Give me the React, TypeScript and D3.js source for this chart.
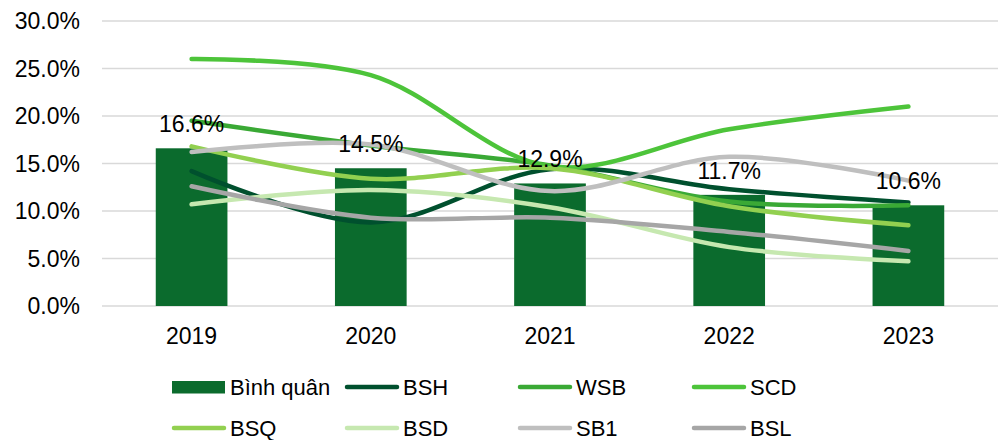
import * as d3 from 'd3';
import React from 'react';

const years = ['2019', '2020', '2021', '2022', '2023'];
const avg = [16.6, 14.5, 12.9, 11.7, 10.6];

const seriesNames = ['BSH', 'WSB', 'SCD', 'BSQ', 'BSD', 'SB1', 'BSL'];
const bsh = [14.2, 8.8, 14.4, 12.3, 10.9];
const wsb = [19.5, 16.9, 14.8, 11.0, 10.6];
const scd = [26.0, 24.3, 14.7, 18.6, 21.0];
const bsq = [16.8, 13.4, 14.5, 10.5, 8.5];
const bsd = [10.7, 12.2, 10.4, 6.2, 4.7];
const sb1 = [16.2, 17.0, 12.1, 15.7, 13.2];
const bsl = [12.6, 9.3, 9.3, 7.8, 5.8];
const yTicks = [0, 5, 10, 15, 20, 25, 30];

const seriesValues = [bsh, wsb, scd, bsq, bsd, sb1, bsl];
const colors = ['#00502E', '#3AA935', '#4DC43A', '#92D050', '#C6E8B0', '#BFBFBF', '#A6A6A6'];
const barColor = '#0B6B2D';
const font = '"Liberation Sans", Arial, sans-serif';

export default function App() {
  const width = 1004;
  const height = 440;
  const margin = { top: 21, right: 6, bottom: 134, left: 102 };

  const x = d3
    .scaleBand()
    .domain(years)
    .range([margin.left, width - margin.right])
    .paddingInner(0.6)
    .paddingOuter(0.3);
  const xc = (d: string) => (x(d) as number) + x.bandwidth() / 2;

  const y = d3
    .scaleLinear()
    .domain([0, 30])
    .range([height - margin.bottom, margin.top]);

  const line = d3
    .line<number>()
    .x((_, i) => xc(years[i]))
    .y((d) => y(d))
    .curve(d3.curveCatmullRom.alpha(0.5));

  // legend: 4 columns x 2 rows
  const legendItems = [{ name: 'Bình quân', color: barColor, bar: true }].concat(
    seriesNames.map((n, i) => ({ name: n, color: colors[i], bar: false }))
  );
  const colX = [172, 345, 518, 692];
  const rowY = [387, 428];

  return (
    <svg
      width={width}
      height={height}
      style={{ position: 'absolute', left: 0, top: 0, background: '#fff' }}
      fontFamily={font}
    >
      {yTicks.map((t) => (
        <g key={t}>
          <line
            x1={margin.left}
            x2={width - margin.right}
            y1={y(t)}
            y2={y(t)}
            stroke="#D9D9D9"
            strokeWidth={1.5}
          />
          <text x={80} y={y(t)} dy="0.36em" textAnchor="end" fontSize={23} fill="#000">
            {t.toFixed(1) + '%'}
          </text>
        </g>
      ))}

      {years.map((yr, i) => (
        <rect
          key={yr}
          x={x(yr)}
          y={y(avg[i])}
          width={x.bandwidth()}
          height={y(0) - y(avg[i])}
          fill={barColor}
        />
      ))}

      {years.map((yr) => (
        <text key={yr} x={xc(yr)} y={344} textAnchor="middle" fontSize={23} fill="#000">
          {yr}
        </text>
      ))}

      {seriesValues.map((vals, i) => (
        <path
          key={seriesNames[i]}
          d={line(vals) as string}
          fill="none"
          stroke={colors[i]}
          strokeWidth={4.5}
          strokeLinecap="round"
        />
      ))}

      {years.map((yr, i) => (
        <text
          key={'l' + yr}
          x={xc(yr)}
          y={y(avg[i]) - 16}
          textAnchor="middle"
          fontSize={23}
          fill="#000"
        >
          {avg[i].toFixed(1) + '%'}
        </text>
      ))}

      {legendItems.map((it, i) => {
        const lx = colX[i % 4];
        const ly = rowY[Math.floor(i / 4)];
        return (
          <g key={it.name}>
            {it.bar ? (
              <rect x={lx} y={ly - 6} width={53} height={12.5} fill={it.color} />
            ) : (
              <line
                x1={lx + 2}
                x2={lx + 52}
                y1={ly}
                y2={ly}
                stroke={it.color}
                strokeWidth={4.5}
                strokeLinecap="round"
              />
            )}
            <text x={lx + 58} y={ly} dy="0.35em" fontSize={22} fill="#000">
              {it.name}
            </text>
          </g>
        );
      })}
    </svg>
  );
}
